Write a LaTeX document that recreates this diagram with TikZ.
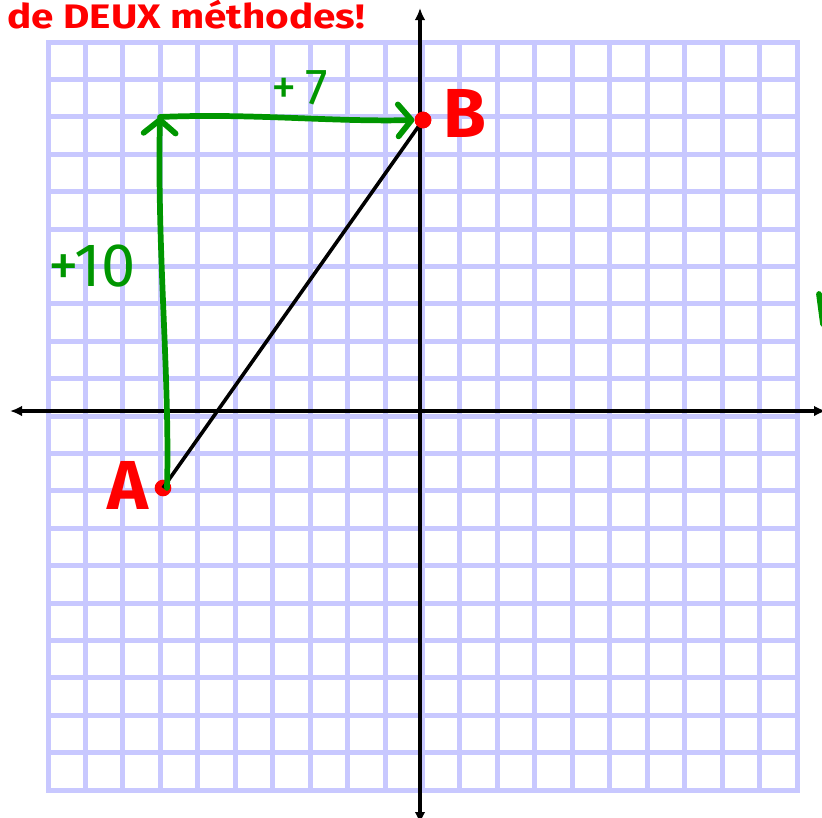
\documentclass[tikz,border=0pt]{standalone}
\usepackage{fontspec}
\usepackage{graphicx}
\setmainfont{Fira Sans}
\usetikzlibrary{arrows.meta}
\definecolor{gridc}{RGB}{200,200,255}
\definecolor{pen}{RGB}{0,150,0}
\definecolor{redc}{RGB}{255,0,0}
\begin{document}
\begin{tikzpicture}[x=0.75pt,y=-0.75pt,
  gridline/.style={gridc, line width=3.75pt, line cap=rect},
  axisline/.style={black, line width=2.7pt, {Latex[length=9pt,width=8pt]}-{Latex[length=9pt,width=8pt]}},
  segline/.style={black, line width=2.7pt},
  greenline/.style={pen, line width=4.3pt, line cap=round, line join=round},
  greenarrow/.style={greenline, -{Straight Barb[length=10pt,width=24pt,round]}},
  dot/.style={circle, fill=redc, inner sep=0pt, minimum size=12.5pt},
  ptlabel/.style={text=redc, font=\bfseries\fontsize{52}{52}\selectfont},
  steplabel/.style={text=pen, font=\fontsize{46}{46}\selectfont}
]
\useasboundingbox (0,0) rectangle (822,818);
\foreach \k in {0,...,20} {
  \draw[gridline] ({48+37.45*\k},42) -- ({48+37.45*\k},790);
  \draw[gridline] (48,{42+37.4*\k}) -- (797,{42+37.4*\k});
}
\coordinate (xl) at (10,411);
\coordinate (xr) at (826,411);
\coordinate (yt) at (420,8);
\coordinate (yb) at (420,824);
\draw[axisline] (xl) -- (xr);
\draw[axisline] (yb) -- (yt);

\node[dot] (A) at (163,488) {};
\node[dot] (B) at (423,120) {};
\coordinate (corner) at (160,117);
\draw[segline] (A.center) -- (B.center);
\draw[greenarrow] (167,488) .. controls (170,380) and (157,250) .. (corner);
\draw[greenarrow] (corner) .. controls (250,113) and (330,122) .. (B.west);
\node[dot] at (B) {};

\coordinate (m1) at (819,294);
\coordinate (m2) at (823,324);
\draw[greenline] (m1) -- (m2);

\node[anchor=base west, inner sep=0pt, text=redc, font=\bfseries\fontsize{25.5}{26}\selectfont] (title) at (7,28) {\scalebox{1.19}[1]{de DEUX méthodes!}};
\node[ptlabel] (Alab) at (128,485) {A};
\node[ptlabel] (Blab) at (465,113) {B};
\node[steplabel] (ten) at (92,266) {+10};
\node[steplabel, font=\fontsize{38}{38}\selectfont] (seven) at (300,88) {+\,7};
\end{tikzpicture}
\end{document}
